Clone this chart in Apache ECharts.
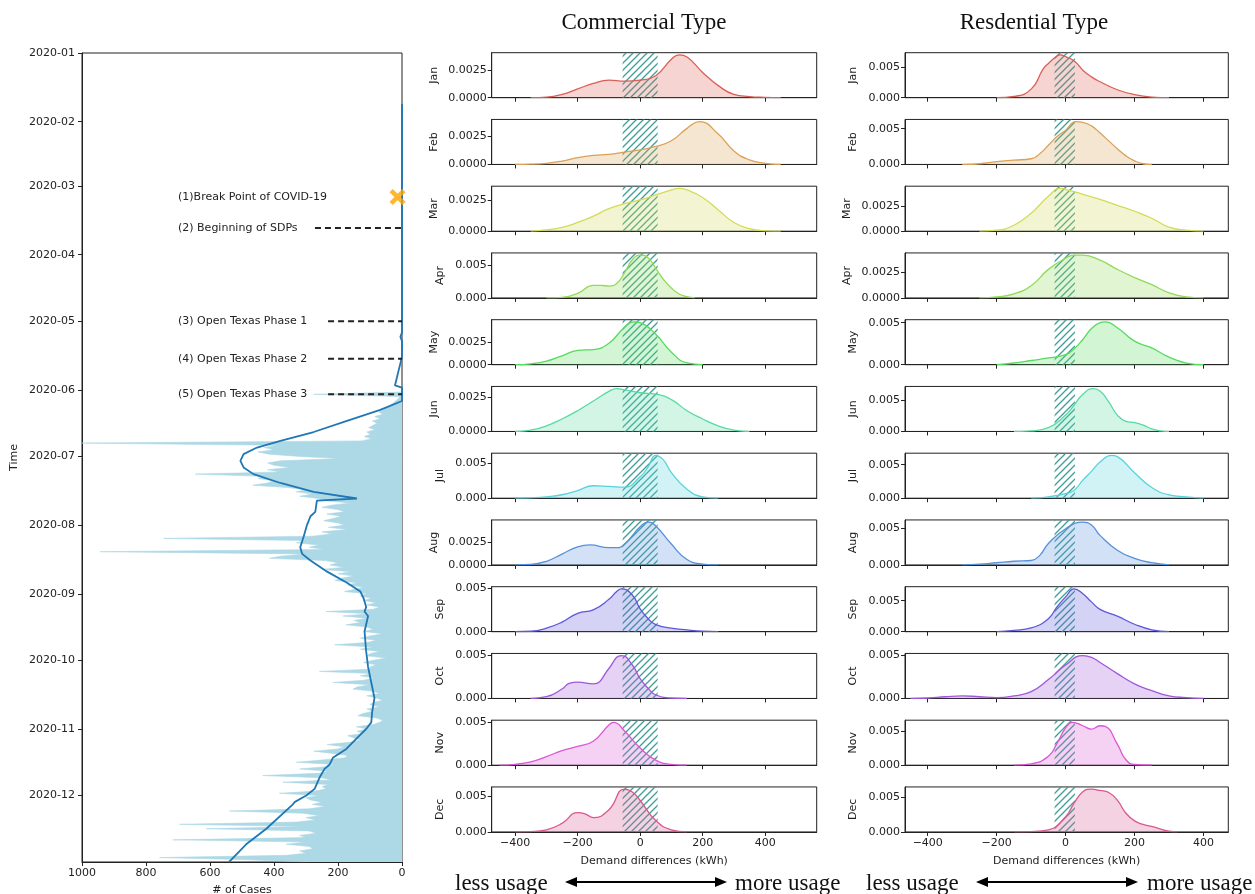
<!DOCTYPE html>
<html><head><meta charset="utf-8">
<script src="https://cdn.jsdelivr.net/npm/echarts@6/dist/echarts.min.js"></script>
<style>html,body{margin:0;padding:0;background:#fff}#c{width:1255px;height:894px}</style>
</head><body><div id="c"></div>
<script>
// ---------------- DATA ----------------
const months = ['Jan','Feb','Mar','Apr','May','Jun','Jul','Aug','Sep','Oct','Nov','Dec'];
const caseTickStep = 200;
const demandTicks = [-400, -200, 0, 200, 400];

// daily # of cases, starting 2020-06-01
const dailyStart = '2020-06-01';
const casesJun = [0,0,276,6,12,20,28,38,50,58,72,60,85,68,92,78,90,104,84,110,98,118,95,125,1000,390,430,400,450,415];
const casesJul = [320,190,380,420,400,350,420,380,646,430,450,400,420,466,360,300,330,280,320,260,240,160,220,250,200,180,235,190,215,245,200];
const casesAug = [180,230,170,250,220,280,745,300,330,260,290,240,943,300,380,414,240,200,225,180,250,160,200,150,190,210,140,170,120,150,180];
const casesSep = [110,130,95,120,80,110,70,90,237,100,185,110,150,130,175,110,90,120,60,100,130,80,110,210,90,130,70,100,110,49];
const casesOct = [90,120,80,100,100,258,90,130,85,120,216,100,140,153,90,70,110,80,60,90,100,70,110,90,122,138,80,60,70,90,143];
const casesNov = [110,140,122,170,150,130,164,234,180,200,276,216,170,179,250,330,210,240,320,230,260,435,250,220,372,230,250,237,270,383];
const casesDec = [260,300,286,250,280,240,290,539,310,260,300,270,330,695,300,612,290,268,320,300,716,300,362,290,278,320,300,360,758,477,300];

// smoothed trend line
const trendDates = ['2020-01-24','2020-05-06','2020-05-08','2020-05-10','2020-05-17','2020-05-30','2020-05-31','2020-06-06',
  '2020-06-10','2020-06-15','2020-06-20','2020-06-24','2020-06-27','2020-06-30','2020-07-03','2020-07-06','2020-07-09',
  '2020-07-13','2020-07-17','2020-07-20','2020-07-21','2020-07-26','2020-07-28','2020-08-01','2020-08-06','2020-08-11',
  '2020-08-14','2020-08-17','2020-08-22','2020-08-27','2020-08-31','2020-09-03','2020-09-07','2020-09-09','2020-09-11',
  '2020-09-18','2020-09-27','2020-10-04','2020-10-11','2020-10-18','2020-10-24','2020-10-29','2020-11-01','2020-11-04',
  '2020-11-10','2020-11-14','2020-11-17','2020-11-19','2020-11-23','2020-11-28','2020-12-01','2020-12-04','2020-12-05',
  '2020-12-16','2020-12-23','2020-12-30','2020-12-31'];
const trendValues = [0,0,5,0,0,22,0,0,
  68,172,276,380,453,495,505,495,464,
  380,276,141,266,271,286,297,307,318,
  312,286,234,172,130,120,112,117,106,
  117,112,106,96,86,93,96,112,133,
  174,216,226,242,258,273,299,336,341,
  424,487,534,541];

// annotations
const eventLabels = ['(1)Break Point of COVID-19','(2) Beginning of SDPs','(3) Open Texas Phase 1','(4) Open Texas Phase 2','(5) Open Texas Phase 3'];
const eventDates = ['2020-03-06','2020-03-20','2020-05-01','2020-05-18','2020-06-03'];
const eventDashFrom = [null, 272, 231, 231, 231];
const labelAnchorValue = 700;
const breakPointValue = 14;

// demand-difference densities
const commercialBand = [-56, 56];
const residentialBand = [-32, 27];
const commercialYStep = [0.0025,0.0025,0.0025,0.005,0.0025,0.0025,0.005,0.0025,0.005,0.005,0.005,0.005];
const residentialYStep = [0.005,0.005,0.0025,0.0025,0.005,0.005,0.005,0.005,0.005,0.005,0.005,0.005];

const commercialCurves = [
 [[-350,0],[-300,0.00005],[-250,0.0003],[-200,0.0008],[-150,0.0013],[-100,0.0016],[-50,0.0015],[0,0.0016],[50,0.0020],[100,0.0035],[125,0.0039],[150,0.0037],[200,0.0023],[250,0.0011],[300,0.0003],[350,0.0001],[400,0.00003],[450,0]],
 [[-400,0],[-350,0.00002],[-300,0.0001],[-250,0.0003],[-200,0.0006],[-150,0.0008],[-100,0.0009],[-50,0.0011],[0,0.0013],[50,0.0016],[100,0.0021],[150,0.0032],[190,0.0038],[250,0.0027],[300,0.0012],[350,0.0004],[400,0.0001],[450,0]],
 [[-350,0],[-300,0.0001],[-250,0.0003],[-200,0.0007],[-150,0.0012],[-100,0.0018],[-50,0.0022],[0,0.0025],[50,0.0029],[100,0.0033],[125,0.00343],[150,0.0033],[200,0.0027],[250,0.0017],[300,0.0007],[350,0.0002],[400,0.00003],[450,0]],
 [[-300,0],[-250,0.0001],[-200,0.0007],[-150,0.0019],[-125,0.0019],[-100,0.0018],[-75,0.0022],[-50,0.0038],[-25,0.0058],[0,0.0065],[25,0.0061],[50,0.0045],[75,0.0028],[100,0.0015],[125,0.0006],[150,0.0002],[175,0]],
 [[-400,0],[-350,0.0001],[-300,0.0004],[-250,0.0010],[-200,0.0016],[-150,0.0017],[-100,0.0024],[-50,0.0042],[-20,0.0048],[0,0.0047],[50,0.0034],[100,0.0014],[150,0.0002],[200,0]],
 [[-400,0],[-350,0.0001],[-300,0.0004],[-250,0.0009],[-200,0.0015],[-150,0.0022],[-100,0.0029],[-75,0.0031],[-50,0.0030],[0,0.0028],[50,0.0027],[100,0.0023],[150,0.0015],[200,0.0009],[250,0.0004],[300,0.0001],[350,0]],
 [[-400,0],[-350,0.00005],[-300,0.0002],[-250,0.0005],[-200,0.0011],[-150,0.0018],[-100,0.0017],[-50,0.0016],[0,0.0031],[25,0.0045],[50,0.0062],[75,0.0055],[100,0.0037],[150,0.0013],[200,0.0002],[250,0]],
 [[-400,0],[-350,0.00005],[-300,0.0004],[-250,0.0012],[-200,0.0020],[-160,0.0022],[-100,0.0019],[-75,0.0019],[-50,0.0023],[0,0.0042],[25,0.00472],[50,0.0043],[100,0.0023],[150,0.0006],[200,0.0001],[250,0]],
 [[-400,0],[-350,0.00005],[-300,0.0004],[-250,0.0011],[-200,0.0021],[-150,0.0025],[-100,0.0037],[-75,0.0046],[-60,0.0049],[-25,0.0042],[0,0.0026],[25,0.0015],[50,0.0008],[100,0.0004],[150,0.0002],[200,0.00005],[250,0]],
 [[-350,0],[-300,0.0002],[-250,0.0011],[-225,0.0018],[-200,0.0019],[-150,0.0017],[-100,0.0035],[-75,0.0048],[-60,0.0050],[-25,0.0039],[0,0.0023],[25,0.0012],[50,0.0004],[100,0.00005],[150,0]],
 [[-450,0],[-400,0.0001],[-350,0.0004],[-300,0.0010],[-250,0.0017],[-200,0.0022],[-150,0.0028],[-100,0.0047],[-85,0.0050],[-50,0.0040],[0,0.0020],[50,0.0006],[100,0.0001],[150,0]],
 [[-400,0],[-350,0.00005],[-300,0.0003],[-250,0.0012],[-200,0.0027],[-175,0.0025],[-150,0.0020],[-100,0.0031],[-50,0.0060],[-25,0.0056],[0,0.0044],[50,0.0016],[100,0.0003],[150,0]]
];

const residentialCurves = [
 [[-200,0],[-150,0.0002],[-100,0.0014],[-65,0.0047],[-50,0.0056],[-25,0.0068],[-15,0.0070],[0,0.0067],[25,0.0060],[50,0.0045],[75,0.0034],[100,0.0026],[150,0.0013],[200,0.0005],[250,0.0001],[300,0]],
 [[-300,0],[-250,0.0001],[-200,0.0004],[-150,0.0006],[-100,0.0008],[-75,0.0015],[-50,0.0027],[-25,0.0039],[0,0.0048],[30,0.0060],[50,0.0059],[75,0.0054],[100,0.0044],[125,0.0033],[150,0.0022],[175,0.0012],[200,0.0005],[225,0.0001],[250,0]],
 [[-250,0],[-200,0.0001],[-150,0.0006],[-100,0.0018],[-50,0.0035],[-15,0.0043],[0,0.0042],[50,0.0037],[100,0.0032],[150,0.0026],[200,0.0020],[250,0.0013],[300,0.0004],[350,0.0001],[400,0]],
 [[-250,0],[-200,0.0001],[-150,0.0004],[-100,0.0012],[-50,0.0028],[0,0.0039],[25,0.0042],[50,0.0042],[100,0.0037],[150,0.0028],[200,0.0020],[250,0.0013],[300,0.0005],[350,0.0001],[400,0]],
 [[-200,0],[-150,0.0002],[-100,0.0005],[-50,0.0008],[0,0.0012],[25,0.0019],[50,0.0030],[75,0.0043],[100,0.0050],[115,0.0051],[150,0.0044],[200,0.0028],[250,0.0020],[300,0.0009],[350,0.0002],[400,0]],
 [[-150,0],[-100,0.0001],[-50,0.0006],[0,0.0026],[25,0.0042],[50,0.0059],[80,0.0068],[100,0.0064],[125,0.0047],[150,0.0026],[175,0.0016],[200,0.0014],[225,0.0010],[250,0.0004],[275,0.0001],[300,0]],
 [[-100,0],[-50,0.0002],[0,0.0007],[25,0.0012],[50,0.0027],[75,0.0040],[100,0.0054],[133,0.0064],[150,0.0062],[200,0.0038],[250,0.0016],[300,0.0005],[350,0.0002],[400,0]],
 [[-300,0],[-250,0.0001],[-200,0.0003],[-150,0.0005],[-100,0.0006],[-75,0.0013],[-50,0.0029],[0,0.0049],[50,0.0058],[75,0.0054],[100,0.0040],[150,0.0020],[200,0.0009],[250,0.0003],[300,0]],
 [[-200,0],[-150,0.0002],[-100,0.0006],[-50,0.0021],[-25,0.0040],[0,0.0056],[25,0.0069],[50,0.0061],[75,0.0048],[100,0.0036],[150,0.0025],[200,0.0012],[250,0.0003],[300,0]],
 [[-450,0],[-400,0.00005],[-350,0.0002],[-300,0.0003],[-250,0.0002],[-200,0.0001],[-150,0.0003],[-100,0.0008],[-50,0.0022],[0,0.0039],[50,0.0050],[75,0.0048],[100,0.0042],[150,0.0029],[200,0.0017],[250,0.0009],[300,0.0003],[350,0.0001],[400,0]],
 [[-150,0],[-100,0.0002],[-50,0.0013],[-25,0.0032],[0,0.0055],[20,0.0063],[50,0.0058],[75,0.0053],[100,0.0058],[115,0.0057],[150,0.0031],[175,0.0008],[200,0.0001],[250,0]],
 [[-150,0],[-100,0.00005],[-50,0.0003],[0,0.0022],[25,0.0042],[50,0.0058],[75,0.0062],[100,0.0060],[125,0.0057],[150,0.0046],[175,0.0027],[200,0.0016],[225,0.0011],[250,0.0008],[300,0.0001],[325,0]]
];

const monthColors = ['#db5f57','#dba157','#d3db57','#91db57','#57db5f','#57dba1','#57d3db','#5791db','#5f57db','#a157db','#db57d3','#db5791'];

// ---------------- BUILD ----------------
const FONT = 'DejaVu Sans';
const TXT = '#222';

const dayCats = [];
for (let t = Date.UTC(2020,0,1); t <= Date.UTC(2020,11,31); t += 86400000) {
  dayCats.push(new Date(t).toISOString().slice(0,10));
}
const dailyAll = [].concat(casesJun, casesJul, casesAug, casesSep, casesOct, casesNov, casesDec);
const startIdx = dayCats.indexOf(dailyStart);
const dailyData = dailyAll.map((v,i) => [v, dayCats[startIdx + i]]);
const trendData = trendDates.map((d,i) => [trendValues[i], d]);

function hatchCanvas() {
  const s = 7, c = document.createElement('canvas');
  c.width = s; c.height = s;
  const g = c.getContext('2d');
  g.strokeStyle = '#3d9f96'; g.lineWidth = 1.3; g.lineCap = 'square';
  g.beginPath();
  g.moveTo(0, s); g.lineTo(s, 0);
  g.moveTo(-1, 1); g.lineTo(1, -1);
  g.moveTo(s-1, s+1); g.lineTo(s+1, s-1);
  g.stroke();
  return c;
}
const hatch = { image: hatchCanvas(), repeat: 'repeat' };

const grids = [{ left: 82, top: 53, width: 320, height: 809, show: true, borderColor: TXT, borderWidth: 1, outerBoundsMode: 'none', containLabel: false }];
const xAxes = [{
  type: 'value', gridIndex: 0, inverse: true, min: 0, max: 1000, interval: caseTickStep,
  axisLine: { show: true, onZero: false, lineStyle: { color: TXT } },
  axisTick: { show: true, length: 4, lineStyle: { color: TXT } },
  axisLabel: { formatter: v => String(v), fontFamily: FONT, fontSize: 11, color: TXT, margin: 6 },
  splitLine: { show: false },
  name: '# of Cases', nameLocation: 'middle', nameGap: 23,
  nameTextStyle: { fontFamily: FONT, fontSize: 11, color: TXT }
}];
const yAxes = [{
  type: 'category', gridIndex: 0, data: dayCats, inverse: true, boundaryGap: false, position: 'left',
  axisLine: { show: true, onZero: false, lineStyle: { color: TXT } },
  axisTick: { show: true, length: 4, interval: (i, v) => v.endsWith('-01'), lineStyle: { color: TXT } },
  axisLabel: { interval: (i, v) => v.endsWith('-01'), formatter: v => v.slice(0,7), fontFamily: FONT, fontSize: 11, color: TXT, margin: 7 },
  splitLine: { show: false },
  name: 'Time', nameLocation: 'middle', nameGap: 62, nameRotate: 90,
  nameTextStyle: { fontFamily: FONT, fontSize: 11, color: TXT }
}];
const series = [
  { type: 'line', xAxisIndex: 0, yAxisIndex: 0, data: dailyData, showSymbol: false, silent: true,
    lineStyle: { width: 0.6, color: '#add8e6' }, areaStyle: { color: '#add8e6', opacity: 1 }, z: 1 },
  { type: 'line', xAxisIndex: 0, yAxisIndex: 0, data: trendData, showSymbol: false, symbol: 'none', silent: true,
    lineStyle: { width: 1.8, color: '#1f77b4' }, z: 3 },
  { type: 'scatter', xAxisIndex: 0, yAxisIndex: 0, data: [[breakPointValue, eventDates[0]]], silent: true,
    symbol: 'path://M0 2 L2 0 L5 3 L8 0 L10 2 L7 5 L10 8 L8 10 L5 7 L2 10 L0 8 L3 5 Z', symbolSize: 16,
    itemStyle: { color: '#ffa500' }, z: 4 }
];
eventDashFrom.forEach((v, i) => {
  if (v === null) return;
  series.push({ type: 'line', xAxisIndex: 0, yAxisIndex: 0, silent: true, showSymbol: false, symbol: 'none',
    data: [[v, eventDates[i]], [0, eventDates[i]]],
    lineStyle: { color: '#222', width: 2, type: [6, 4] }, z: 4 });
});

function addPanel(m, curve, step, band, left, width, xmin, xmax) {
  const gi = grids.length;
  const top = 52.7 + m * 66.75;
  grids.push({ left: left, top: top, width: width, height: 45, show: true, borderColor: TXT, borderWidth: 1, outerBoundsMode: 'none', containLabel: false });
  const last = m === 11;
  xAxes.push({
    type: 'value', gridIndex: gi, min: xmin, max: xmax, position: 'bottom',
    axisLine: { show: true, onZero: false, lineStyle: { color: TXT } },
    axisTick: { show: true, customValues: demandTicks, length: 4, lineStyle: { color: TXT } },
    axisLabel: { show: last, customValues: demandTicks, formatter: v => (v < 0 ? '\u2212' + Math.abs(v) : String(v)),
      fontFamily: FONT, fontSize: 11, color: TXT, margin: 6 },
    splitLine: { show: false },
    name: last ? 'Demand differences (kWh)' : '', nameLocation: 'middle', nameGap: 24,
    nameTextStyle: { fontFamily: FONT, fontSize: 11, color: TXT }
  });
  const dec = step === 0.0025 ? 4 : 3;
  yAxes.push({
    type: 'value', gridIndex: gi, min: 0, max: v => v.max * 1.05, position: 'left',
    axisLine: { show: true, onZero: false, lineStyle: { color: TXT } },
    axisTick: { show: true, customValues: [0, step], length: 4, lineStyle: { color: TXT } },
    axisLabel: { customValues: [0, step], formatter: v => v.toFixed(dec), fontFamily: FONT, fontSize: 11, color: TXT, margin: 5 },
    splitLine: { show: false },
    name: months[m], nameLocation: 'middle', nameRotate: 90, nameGap: dec === 4 ? 52 : 46,
    nameTextStyle: { fontFamily: FONT, fontSize: 11, color: TXT }
  });
  const c0 = monthColors[m];
  series.push({
    type: 'line', xAxisIndex: gi, yAxisIndex: gi, data: curve, smooth: 0.5,
    showSymbol: false, symbol: 'none', silent: true, lineStyle: { color: c0, width: 1.3 },
    areaStyle: { color: c0, opacity: 0.27 },
    markArea: { silent: true, itemStyle: { color: hatch, borderWidth: 0 }, data: [[{ xAxis: band[0] }, { xAxis: band[1] }]] }
  });
}
for (let m = 0; m < 12; m++) {
  addPanel(m, commercialCurves[m], commercialYStep[m], commercialBand, 491.7, 325, -475, 565);
  addPanel(m, residentialCurves[m], residentialYStep[m], residentialBand, 905, 323.3, -466, 472);
}

function arrow(x1, x2, y) {
  return [
    { type: 'line', shape: { x1: x1 + 8, y1: y, x2: x2 - 8, y2: y }, style: { stroke: '#000', lineWidth: 2 } },
    { type: 'polygon', shape: { points: [[x1, y], [x1 + 12, y - 5], [x1 + 12, y + 5]] }, style: { fill: '#000' } },
    { type: 'polygon', shape: { points: [[x2, y], [x2 - 12, y - 5], [x2 - 12, y + 5]] }, style: { fill: '#000' } }
  ];
}
const SERIF = '23px "Liberation Serif"';
const graphic = [
  { type: 'text', x: 644, y: 23, style: { text: 'Commercial Type', font: SERIF, fill: '#111', align: 'center', verticalAlign: 'middle' } },
  { type: 'text', x: 1034, y: 23, style: { text: 'Resdential Type', font: SERIF, fill: '#111', align: 'center', verticalAlign: 'middle' } },
  { type: 'text', x: 455, y: 884, style: { text: 'less usage', font: SERIF, fill: '#111', align: 'left', verticalAlign: 'middle' } },
  { type: 'text', x: 735, y: 884, style: { text: 'more usage', font: SERIF, fill: '#111', align: 'left', verticalAlign: 'middle' } },
  { type: 'text', x: 866, y: 884, style: { text: 'less usage', font: SERIF, fill: '#111', align: 'left', verticalAlign: 'middle' } },
  { type: 'text', x: 1147, y: 884, style: { text: 'more usage', font: SERIF, fill: '#111', align: 'left', verticalAlign: 'middle' } }
].concat(arrow(565, 727, 882), arrow(976, 1138, 882));

const chart = echarts.init(document.getElementById('c'), null, { renderer: 'canvas' });
chart.setOption({
  animation: false,
  backgroundColor: '#fff',
  grid: grids, xAxis: xAxes, yAxis: yAxes, series: series, graphic: graphic
});

// annotation texts placed through the chart's own scales
const annot = eventLabels.map((t, i) => {
  const p = chart.convertToPixel({ xAxisIndex: 0, yAxisIndex: 0 }, [labelAnchorValue, eventDates[i]]);
  return { type: 'text', x: p[0], y: p[1], z: 10,
    style: { text: t, font: '11px "DejaVu Sans"', fill: '#222', align: 'left', verticalAlign: 'middle' } };
});
chart.setOption({ graphic: graphic.concat(annot) });
</script></body></html>
